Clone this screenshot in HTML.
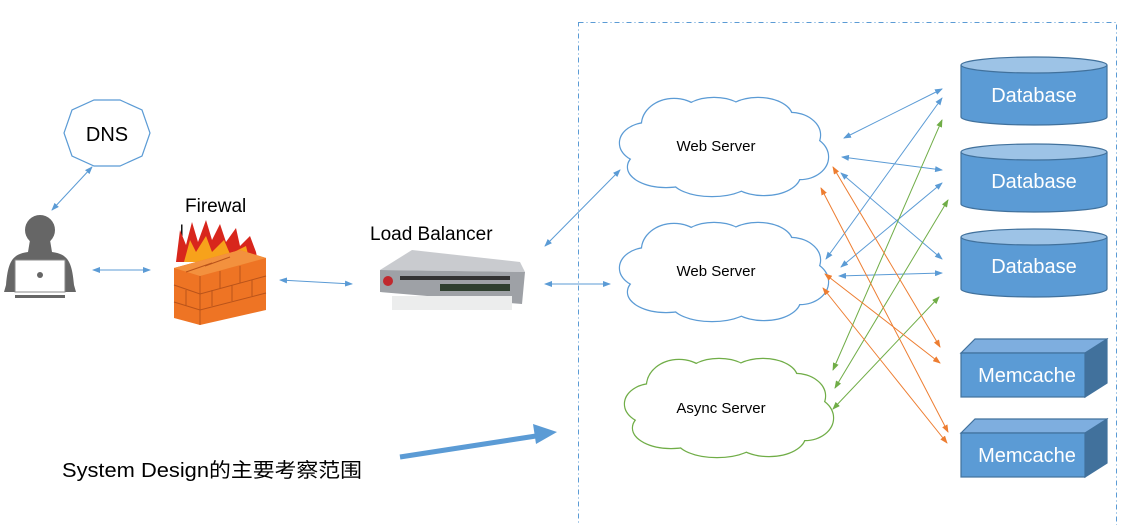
<!DOCTYPE html>
<html><head><meta charset="utf-8"><style>
html,body{margin:0;padding:0;background:#fff;}
svg{display:block;font-family:"Liberation Sans","Noto Sans CJK SC",sans-serif;}
</style></head><body>
<svg width="1136" height="525" viewBox="0 0 1136 525" xmlns="http://www.w3.org/2000/svg">
<defs>
<marker id="mb" markerWidth="8" markerHeight="6" refX="7" refY="3" orient="auto-start-reverse" markerUnits="userSpaceOnUse"><path d="M0,0 L8,3 L0,6 z" fill="#5b9bd5"/></marker>
<marker id="mg" markerWidth="8" markerHeight="6" refX="7" refY="3" orient="auto-start-reverse" markerUnits="userSpaceOnUse"><path d="M0,0 L8,3 L0,6 z" fill="#70ad47"/></marker>
<marker id="mo" markerWidth="8" markerHeight="6" refX="7" refY="3" orient="auto-start-reverse" markerUnits="userSpaceOnUse"><path d="M0,0 L8,3 L0,6 z" fill="#ed7d31"/></marker>
<g id="cloudS">
<ellipse cx="-74" cy="-4" rx="28" ry="20"/><ellipse cx="-48" cy="-22" rx="32" ry="26"/><ellipse cx="-8" cy="-32" rx="32" ry="17"/><ellipse cx="36" cy="-30" rx="34" ry="19"/><ellipse cx="68" cy="-12" rx="30" ry="22"/><ellipse cx="78" cy="10" rx="28" ry="22"/><ellipse cx="42" cy="28" rx="36" ry="20"/><ellipse cx="-10" cy="32" rx="40" ry="17"/><ellipse cx="-56" cy="20" rx="38" ry="20"/><ellipse cx="0" cy="0" rx="80" ry="30"/>
</g>
</defs>
<rect x="578.5" y="22.5" width="538" height="520" fill="none" stroke="#5b9bd5" stroke-dasharray="5,3,1,3"/>

<!-- DNS -->
<polygon points="94,100 120,100 142,110 150,133 142,156 120,166 94,166 72,156 64,133 72,110" fill="#fff" stroke="#5b9bd5" stroke-width="1.2"/>
<text x="107" y="141" font-size="20" text-anchor="middle">DNS</text>
<line x1="92" y1="167" x2="52" y2="210" stroke="#5b9bd5" marker-start="url(#mb)" marker-end="url(#mb)"/>

<!-- person -->
<circle cx="40" cy="230" r="15" fill="#666"/>
<path d="M30,240 L50,240 L52,252 C68,254 72,262 74,285 L76,292 L4,292 L6,285 C8,262 12,254 28,252 Z" fill="#666"/>
<rect x="15" y="260" width="50" height="32" fill="#fff" stroke="#888"/>
<circle cx="40" cy="275" r="3" fill="#666"/>
<rect x="15" y="295" width="50" height="3" fill="#666"/>
<line x1="93" y1="270" x2="150" y2="270" stroke="#5b9bd5" marker-start="url(#mb)" marker-end="url(#mb)"/>

<!-- firewall -->
<text x="185" y="212" font-size="19">Firewal</text>
<text x="180" y="236" font-size="16">l</text>
<path d="M176,262 L180,230 L186,245 L192,222 L198,242 L206,220 L212,240 L220,224 L226,242 L236,228 L240,246 L250,236 L256,252 L258,262 Z" fill="#d8261c"/>
<path d="M184,262 L190,240 L196,252 L206,236 L212,252 L224,240 L230,254 L246,246 L250,262 Z" fill="#f7a21b"/>
<polygon points="174,268 240,250 266,258 266,310 200,325 174,318" fill="#ee7424"/>
<polygon points="174,268 240,250 266,258 200,276" fill="#f3913e"/>
<g stroke="#b9531a" stroke-width="1" fill="none">
<path d="M174,285 L200,294 L266,276 M174,302 L200,310 L266,293 M186,272 L212,263 M205,266 L230,257 M200,276 L200,325 M220,271 L220,288 M240,266 L240,283 M212,290 L212,306 M232,285 L232,301 M252,280 L252,296 M186,290 L186,306"/>
</g>
<line x1="280" y1="280" x2="352" y2="284" stroke="#5b9bd5" marker-start="url(#mb)" marker-end="url(#mb)"/>

<!-- load balancer -->
<text x="370" y="240" font-size="19">Load Balancer</text>
<polygon points="380,270 412,250 520,262 525,272" fill="#c9cbcf"/>
<polygon points="380,270 525,272 522,304 380,292" fill="#9ea1a6"/>
<rect x="400" y="276" width="110" height="4" fill="#333"/>
<rect x="440" y="284" width="70" height="7" fill="#2f3f2f"/>
<circle cx="388" cy="281" r="5" fill="#c0282d"/>
<rect x="392" y="296" width="120" height="14" fill="#eceded"/>
<line x1="545" y1="246" x2="620" y2="170" stroke="#5b9bd5" marker-start="url(#mb)" marker-end="url(#mb)"/>
<line x1="545" y1="284" x2="610" y2="284" stroke="#5b9bd5" marker-start="url(#mb)" marker-end="url(#mb)"/>

<!-- clouds -->
<g transform="translate(722,147)"><use href="#cloudS" fill="none" stroke="#5b9bd5" stroke-width="2.4"/><use href="#cloudS" fill="#fff"/></g>
<text x="716" y="151" font-size="15" text-anchor="middle">Web Server</text>
<g transform="translate(722,272)"><use href="#cloudS" fill="none" stroke="#5b9bd5" stroke-width="2.4"/><use href="#cloudS" fill="#fff"/></g>
<text x="716" y="276" font-size="15" text-anchor="middle">Web Server</text>
<g transform="translate(727,408)"><use href="#cloudS" fill="none" stroke="#70ad47" stroke-width="2.4"/><use href="#cloudS" fill="#fff"/></g>
<text x="721" y="413" font-size="15" text-anchor="middle">Async Server</text>

<!-- databases -->
<g stroke="#41719c" stroke-width="1.2">
<path d="M961,65 L961,117 A73,8 0 0 0 1107,117 L1107,65" fill="#5b9bd5"/><ellipse cx="1034" cy="65" rx="73" ry="8" fill="#9dc3e6"/>
<path d="M961,152 L961,204 A73,8 0 0 0 1107,204 L1107,152" fill="#5b9bd5"/><ellipse cx="1034" cy="152" rx="73" ry="8" fill="#9dc3e6"/>
<path d="M961,237 L961,289 A73,8 0 0 0 1107,289 L1107,237" fill="#5b9bd5"/><ellipse cx="1034" cy="237" rx="73" ry="8" fill="#9dc3e6"/>
</g>
<g fill="#fff" font-size="20" text-anchor="middle">
<text x="1034" y="102">Database</text><text x="1034" y="188">Database</text><text x="1034" y="273">Database</text>
</g>

<!-- memcache -->
<g stroke="#41719c" stroke-width="1.2">
<polygon points="961,353 975,339 1107,339 1093,353" fill="#7eaedf"/>
<polygon points="1085,353 1107,339 1107,383 1085,397" fill="#41719c"/>
<rect x="961" y="353" width="124" height="44" fill="#5b9bd5"/>
<polygon points="961,433 975,419 1107,419 1093,433" fill="#7eaedf"/>
<polygon points="1085,433 1107,419 1107,463 1085,477" fill="#41719c"/>
<rect x="961" y="433" width="124" height="44" fill="#5b9bd5"/>
</g>
<g fill="#fff" font-size="20" text-anchor="middle">
<text x="1027" y="382">Memcache</text><text x="1027" y="462">Memcache</text>
</g>

<!-- connectors -->
<g stroke="#5b9bd5" stroke-width="1" marker-start="url(#mb)" marker-end="url(#mb)">
<line x1="844" y1="138" x2="942" y2="89"/>
<line x1="842" y1="157" x2="942" y2="170"/>
<line x1="841" y1="173" x2="942" y2="259"/>
<line x1="826" y1="259" x2="942" y2="98"/>
<line x1="841" y1="267" x2="942" y2="183"/>
<line x1="839" y1="276" x2="942" y2="273"/>
</g>
<g stroke="#70ad47" stroke-width="1" marker-start="url(#mg)" marker-end="url(#mg)">
<line x1="833" y1="370" x2="942" y2="120"/>
<line x1="835" y1="388" x2="948" y2="200"/>
<line x1="833" y1="409" x2="939" y2="297"/>
</g>
<g stroke="#ed7d31" stroke-width="1" marker-start="url(#mo)" marker-end="url(#mo)">
<line x1="833" y1="167" x2="940" y2="347"/>
<line x1="821" y1="188" x2="948" y2="432"/>
<line x1="825" y1="274" x2="940" y2="363"/>
<line x1="823" y1="288" x2="947" y2="443"/>
</g>

<!-- big arrow -->
<line x1="400" y1="457" x2="536" y2="436" stroke="#5b9bd5" stroke-width="5"/>
<polygon points="557,432 533,424 536,444" fill="#5b9bd5"/>
<text x="62" y="477" font-size="20" textLength="300" lengthAdjust="spacingAndGlyphs">System Design的主要考察范围</text>
</svg>
</body></html>
